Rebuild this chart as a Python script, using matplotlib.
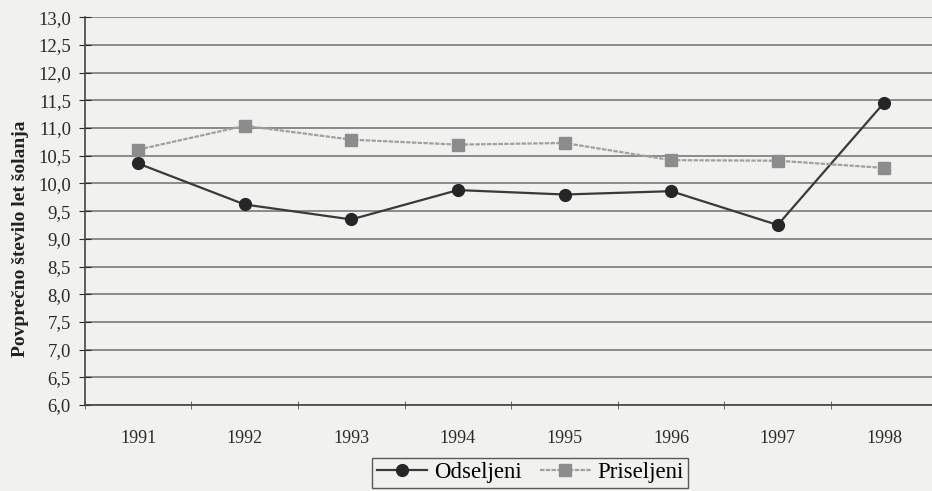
import matplotlib.pyplot as plt
from matplotlib.ticker import FuncFormatter, MultipleLocator

years = ["1991", "1992", "1993", "1994", "1995", "1996", "1997", "1998"]
odseljeni = [10.36, 9.62, 9.35, 9.88, 9.80, 9.86, 9.25, 11.46]
priseljeni = [10.61, 11.04, 10.79, 10.70, 10.73, 10.42, 10.41, 10.28]

plt.rcParams["font.family"] = ["Liberation Serif", "DejaVu Serif"]

bg = "#f1f1ef"
fig = plt.figure(figsize=(9.32, 4.91), dpi=100, facecolor=bg)
ax = fig.add_axes([0.091, 0.175, 0.915, 0.79], facecolor=bg)

x = list(range(1, len(years) + 1))
ax.plot(x, odseljeni, "-", color="#3a3a3a", lw=1.6, marker="o", ms=8.5,
        mfc="#262626", mec="#262626", label="Odseljeni", zorder=3, clip_on=False)
ax.plot(x, priseljeni, color="#a0a0a0", lw=1.6, ls=(0, (2, 0.6)), marker="s", ms=8.5,
        mfc="#8c8c8c", mec="#8c8c8c", label="Priseljeni", zorder=3, clip_on=False)

ax.set_ylim(6.0, 13.0)
ax.yaxis.set_major_locator(MultipleLocator(0.5))
ax.yaxis.set_major_formatter(FuncFormatter(lambda v, p: f"{v:.1f}".replace(".", ",")))
ax.grid(axis="y", color="#7a7a7a", lw=1.2)
ax.set_axisbelow(True)

ax.set_xlim(0.5, len(years) + 0.5)
ax.set_xticks(x)
ax.set_xticklabels(years)
ax.set_xticks([i + 0.5 for i in range(len(years))], minor=True)
ax.tick_params(axis="x", which="major", length=0, pad=18, labelsize=13, colors="#2a2a2a")
ax.tick_params(axis="x", which="minor", length=6, direction="inout", color="#555555")
ax.tick_params(axis="y", length=8, direction="inout", labelsize=13.5, colors="#2a2a2a", pad=6)

for s in ["top", "right"]:
    ax.spines[s].set_visible(False)
ax.spines["left"].set_color("#444444")
ax.spines["bottom"].set_color("#444444")
ax.spines["left"].set_linewidth(1.2)
ax.spines["bottom"].set_linewidth(1.2)

ax.set_ylabel("Povprečno število let šolanja", fontsize=14, fontweight="bold",
              color="#222222")
ax.yaxis.set_label_coords(-0.066, 0.43)

leg = fig.legend(loc="upper center", bbox_to_anchor=(0.569, 0.068), ncol=2, frameon=True,
                 fontsize=16.5, fancybox=False, edgecolor="#333333", facecolor=bg,
                 handlelength=2.2, columnspacing=0.8, handletextpad=0.3,
                 borderpad=0.2, borderaxespad=0)
leg.get_frame().set_linewidth(1.0)

fig.savefig("out.png", dpi=100, facecolor=bg)
